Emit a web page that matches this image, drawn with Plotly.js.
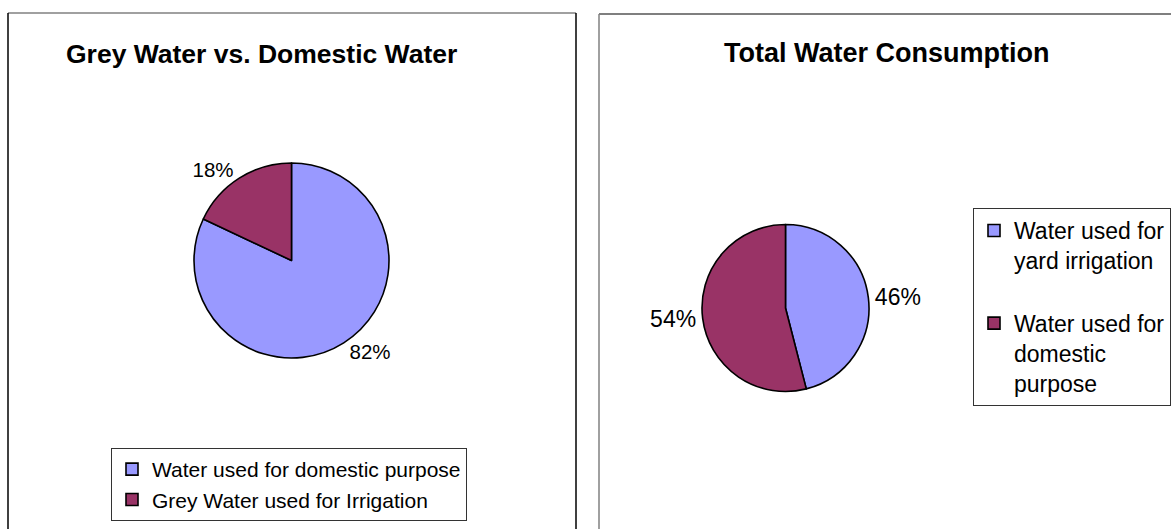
<!DOCTYPE html>
<html>
<head>
<meta charset="utf-8">
<script src="https://cdn.plot.ly/plotly-3.0.1.min.js"></script>
<style>
html,body{margin:0;padding:0;background:#fff;}
#chart{width:1171px;height:529px;}
</style>
</head>
<body>
<div id="chart"></div>
<script>
// ---- Data ----
const leftTitle = 'Grey Water vs. Domestic Water';
const leftLabels = ['Water used for domestic purpose', 'Grey Water used for Irrigation'];
const leftValues = [82, 18];

const rightTitle = 'Total Water Consumption';
const rightLabels = ['Water used for<br>yard irrigation<br>\u00a0', 'Water used for<br>domestic<br>purpose'];
const rightValues = [46, 54];

const sliceColors = ['#9999FF', '#993366'];

// ---- Layout helpers (pixel -> paper) ----
const W = 1171, H = 529;
const px = x => x / W;
const py = y => 1 - y / H;
const FONT = 'Liberation Sans, Arial, sans-serif';

function vline(x, y0, y1, color) {
  return {type: 'line', xref: 'paper', yref: 'paper', x0: px(x), x1: px(x), y0: py(y0), y1: py(y1),
          line: {color: color, width: 1.5}};
}
function hline(y, x0, x1, color) {
  return {type: 'line', xref: 'paper', yref: 'paper', x0: px(x0), x1: px(x1), y0: py(y), y1: py(y),
          line: {color: color, width: 1.5}};
}

const traces = [
  {
    type: 'pie',
    labels: leftLabels,
    values: leftValues,
    sort: false,
    direction: 'clockwise',
    rotation: 0,
    marker: {colors: sliceColors, line: {color: '#000', width: 1.6}},
    textinfo: 'percent',
    textposition: 'outside',
    outsidetextfont: {family: FONT, size: 20.5, color: '#000'},
    domain: {x: [px(194), px(389)], y: [py(358), py(163)]},
    legend: 'legend',
    hoverinfo: 'label+percent'
  },
  {
    type: 'pie',
    labels: rightLabels,
    values: rightValues,
    sort: false,
    direction: 'clockwise',
    rotation: 0,
    marker: {colors: sliceColors, line: {color: '#000', width: 1.6}},
    textinfo: 'percent',
    textposition: 'outside',
    outsidetextfont: {family: FONT, size: 23, color: '#000'},
    domain: {x: [px(702), px(869)], y: [py(392), py(224)]},
    legend: 'legend2',
    hoverinfo: 'label+percent'
  }
];

const layout = {
  width: W, height: H,
  margin: {l: 0, r: 0, t: 0, b: 0, autoexpand: false},
  paper_bgcolor: '#fff',
  font: {family: FONT, color: '#000'},
  showlegend: true,
  legend: {
    x: px(111), y: py(448), xanchor: 'left', yanchor: 'top',
    bgcolor: '#fff', bordercolor: '#333', borderwidth: 1,
    font: {family: FONT, size: 21, color: '#000'},
    traceorder: 'normal'
  },
  legend2: {
    x: px(973), y: py(208), xanchor: 'left', yanchor: 'top',
    bgcolor: '#fff', bordercolor: '#333', borderwidth: 1,
    valign: 'top',
    font: {family: FONT, size: 23, color: '#000'},
    traceorder: 'normal'
  },
  annotations: [
    {text: '<b>' + leftTitle + '</b>', xref: 'paper', yref: 'paper', x: px(261), y: py(54),
     xanchor: 'center', yanchor: 'middle', showarrow: false, font: {family: FONT, size: 26.5, color: '#000'}},
    {text: '<b>' + rightTitle + '</b>', xref: 'paper', yref: 'paper', x: px(886), y: py(53),
     xanchor: 'center', yanchor: 'middle', showarrow: false, font: {family: FONT, size: 27, color: '#000'}}
  ],
  shapes: [
    hline(13, 8, 576, '#808080'),
    vline(8, 13, 535, '#000'),
    vline(576, 13, 535, '#000'),
    hline(14, 599, 1180, '#555'),
    vline(599, 14, 535, '#808080')
  ]
};

Plotly.newPlot('chart', traces, layout, {staticPlot: true, displayModeBar: false});
</script>
</body>
</html>
